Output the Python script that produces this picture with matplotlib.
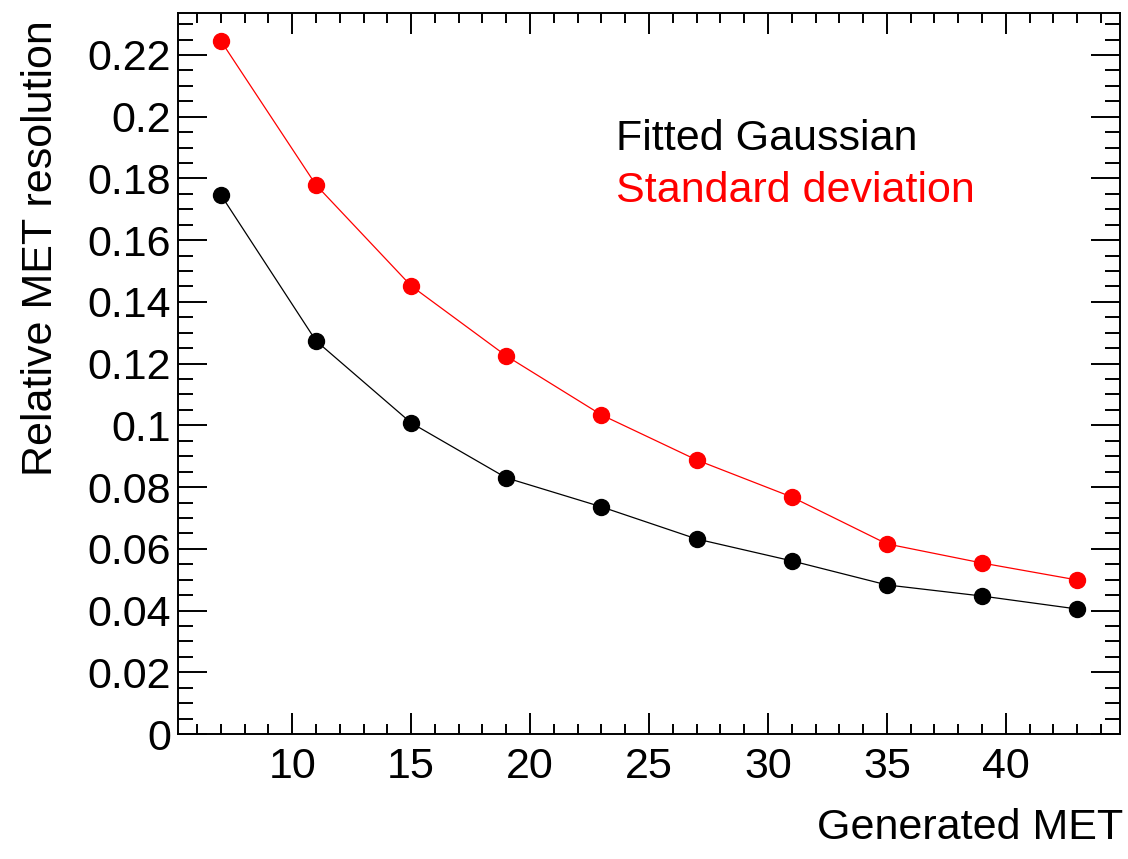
import matplotlib
matplotlib.use("Agg")
import matplotlib.pyplot as plt
from matplotlib.ticker import MultipleLocator

plt.rcParams['font.family'] = ['Liberation Sans', 'DejaVu Sans']

# generated MET bins
met = [7, 11, 15, 19, 23, 27, 31, 35, 39, 43]
# relative resolution from gaussian fit
fitted = [0.1747, 0.1274, 0.1008, 0.0830, 0.0736, 0.0632, 0.0561, 0.0483, 0.0447, 0.0405]
# relative resolution from standard deviation
stddev = [0.2246, 0.1779, 0.1452, 0.1225, 0.1034, 0.0888, 0.0768, 0.0616, 0.0554, 0.0499]

W, H = 1128, 859
fs = 31
fig = plt.figure(figsize=(W / 100, H / 100), dpi=100)
ax = fig.add_axes([178 / W, 1 - 734 / H, (1120 - 178) / W, (734 - 12.7) / H])

ax.plot(met, fitted, color='black', lw=0.9, marker='o', ms=11.5, mec='black', mfc='black')
ax.plot(met, stddev, color='red', lw=0.9, marker='o', ms=11.5, mec='red', mfc='red')

ax.set_xlim(5.2, 44.8)
ax.set_ylim(0, 0.2337)

ax.xaxis.set_major_locator(MultipleLocator(5))
ax.xaxis.set_minor_locator(MultipleLocator(1))
ax.yaxis.set_major_locator(MultipleLocator(0.02))
ax.yaxis.set_minor_locator(MultipleLocator(0.005))

def fmt(v, pos):
    if abs(v) < 1e-9:
        return '0'
    return ('%.2f' % v).rstrip('0')

ax.yaxis.set_major_formatter(plt.FuncFormatter(fmt))

ax.tick_params(axis='both', which='both', direction='in', top=True, right=True,
               width=1.4, labelsize=fs, colors='black')
ax.tick_params(axis='x', which='major', length=15, pad=9)
ax.tick_params(axis='x', which='minor', length=7.5)
ax.tick_params(axis='y', which='major', length=21, pad=5)
ax.tick_params(axis='y', which='minor', length=11)
for s in ax.spines.values():
    s.set_linewidth(1.4)

fig.text(616 / W, 1 - 150 / H, 'Fitted Gaussian', fontsize=fs, color='black', va='baseline', ha='left')
fig.text(616 / W, 1 - 202 / H, 'Standard deviation', fontsize=fs, color='red', va='baseline', ha='left')

fig.text(1123 / W, 1 - 839 / H, 'Generated MET', fontsize=fs, va='baseline', ha='right')
fig.text(41 / W, 1 - 20 / H, 'Relative MET resolution', fontsize=fs, rotation=90, va='top', ha='center')

fig.savefig('out.png', dpi=100)
